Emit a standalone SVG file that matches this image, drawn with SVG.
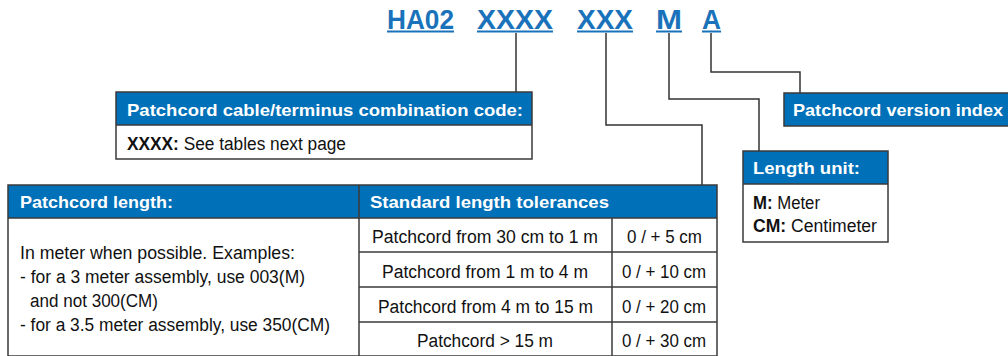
<svg xmlns="http://www.w3.org/2000/svg" width="1008" height="356" viewBox="0 0 1008 356">
<style>
.title{font-family:"Liberation Sans",Arial,sans-serif;font-weight:bold;font-size:27px;fill:#1a73ba}
.ul{fill:#1a73ba}
.hdr{fill:#0070b8}
.box{fill:none;stroke:#3a3a3a;stroke-width:1.5}
.ht{font-family:"Liberation Sans",Arial,sans-serif;font-weight:bold;font-size:17px;fill:#fff}
.bt{font-family:"Liberation Sans",Arial,sans-serif;font-size:18px;fill:#111}
.bb{font-weight:bold}
.conn{fill:none;stroke:#333;stroke-width:1.5}
</style>
<rect width="1008" height="356" fill="#fff"/>
<g id="code">
<text class="title" x="387" y="29" textLength="67" lengthAdjust="spacingAndGlyphs">HA02</text>
<rect class="ul" x="387" y="30.5" width="67" height="2"/>
<text class="title" x="477" y="29" textLength="76" lengthAdjust="spacingAndGlyphs">XXXX</text>
<rect class="ul" x="477" y="30.5" width="76" height="2"/>
<text class="title" x="577" y="29" textLength="56" lengthAdjust="spacingAndGlyphs">XXX</text>
<rect class="ul" x="577" y="30.5" width="56" height="2"/>
<text class="title" x="656" y="29" textLength="26" lengthAdjust="spacingAndGlyphs">M</text>
<rect class="ul" x="656" y="30.5" width="26" height="2"/>
<text class="title" x="702" y="29" textLength="19" lengthAdjust="spacingAndGlyphs">A</text>
<rect class="ul" x="702" y="30.5" width="19" height="2"/>
</g>
<g id="connectors">
<path class="conn" d="M516 33 V92"/>
<path class="conn" d="M606 33 V125 H702 V185"/>
<path class="conn" d="M669 33 V99 H759 V151"/>
<path class="conn" d="M711 33 V72 H800 V93"/>
</g>
<g id="cable-code">
<rect class="hdr" x="116" y="92" width="416" height="33"/>
<rect class="box" x="116" y="92" width="416" height="67"/>
<line class="box" x1="116" y1="125" x2="532" y2="125"/>
<text class="ht" x="127" y="116" textLength="396" lengthAdjust="spacingAndGlyphs">Patchcord cable/terminus combination code:</text>
<text class="bt" x="127" y="150" textLength="219" lengthAdjust="spacingAndGlyphs"><tspan class="bb">XXXX:</tspan> See tables next page</text>
</g>
<g id="version-index">
<rect class="hdr" x="784" y="93" width="230" height="33"/>
<rect class="box" x="784" y="93" width="230" height="33"/>
<text class="ht" x="793" y="116" textLength="210" lengthAdjust="spacingAndGlyphs">Patchcord version index</text>
</g>
<g id="length-unit">
<rect class="hdr" x="743" y="151" width="145" height="33"/>
<rect class="box" x="743" y="151" width="145" height="91"/>
<line class="box" x1="743" y1="184" x2="888" y2="184"/>
<text class="ht" x="753" y="174" textLength="107" lengthAdjust="spacingAndGlyphs">Length unit:</text>
<text class="bt" x="753" y="209" textLength="67" lengthAdjust="spacingAndGlyphs"><tspan class="bb">M:</tspan> Meter</text>
<text class="bt" x="753" y="232" textLength="124" lengthAdjust="spacingAndGlyphs"><tspan class="bb">CM:</tspan> Centimeter</text>
</g>
<g id="length-table">
<rect class="hdr" x="8" y="185" width="709" height="33"/>
<rect class="box" x="8" y="185" width="709" height="171"/>
<line class="box" x1="8" y1="218" x2="717" y2="218"/>
<line class="box" x1="359" y1="185" x2="359" y2="356"/>
<line class="box" x1="612" y1="218" x2="612" y2="356"/>
<line class="box" x1="359" y1="252" x2="717" y2="252"/>
<line class="box" x1="359" y1="287" x2="717" y2="287"/>
<line class="box" x1="359" y1="322" x2="717" y2="322"/>
<text class="ht" x="20" y="208" textLength="153" lengthAdjust="spacingAndGlyphs">Patchcord length:</text>
<text class="ht" x="370" y="208" textLength="239" lengthAdjust="spacingAndGlyphs">Standard length tolerances</text>
<text class="bt" x="20" y="259" textLength="275" lengthAdjust="spacingAndGlyphs">In meter when possible. Examples:</text>
<text class="bt" x="20" y="283" textLength="285" lengthAdjust="spacingAndGlyphs">- for a 3 meter assembly, use 003(M)</text>
<text class="bt" x="30" y="307" textLength="128" lengthAdjust="spacingAndGlyphs">and not 300(CM)</text>
<text class="bt" x="20" y="331" textLength="310" lengthAdjust="spacingAndGlyphs">- for a 3.5 meter assembly, use 350(CM)</text>
<text class="bt" x="372" y="243" textLength="226" lengthAdjust="spacingAndGlyphs">Patchcord from 30 cm to 1 m</text>
<text class="bt" x="627" y="243" textLength="75" lengthAdjust="spacingAndGlyphs">0 / + 5 cm</text>
<text class="bt" x="382" y="278" textLength="206" lengthAdjust="spacingAndGlyphs">Patchcord from 1 m to 4 m</text>
<text class="bt" x="622" y="278" textLength="84" lengthAdjust="spacingAndGlyphs">0 / + 10 cm</text>
<text class="bt" x="378" y="313" textLength="215" lengthAdjust="spacingAndGlyphs">Patchcord from 4 m to 15 m</text>
<text class="bt" x="622" y="313" textLength="84" lengthAdjust="spacingAndGlyphs">0 / + 20 cm</text>
<text class="bt" x="417" y="347" textLength="136" lengthAdjust="spacingAndGlyphs">Patchcord &gt; 15 m</text>
<text class="bt" x="622" y="347" textLength="84" lengthAdjust="spacingAndGlyphs">0 / + 30 cm</text>
</g>
</svg>
